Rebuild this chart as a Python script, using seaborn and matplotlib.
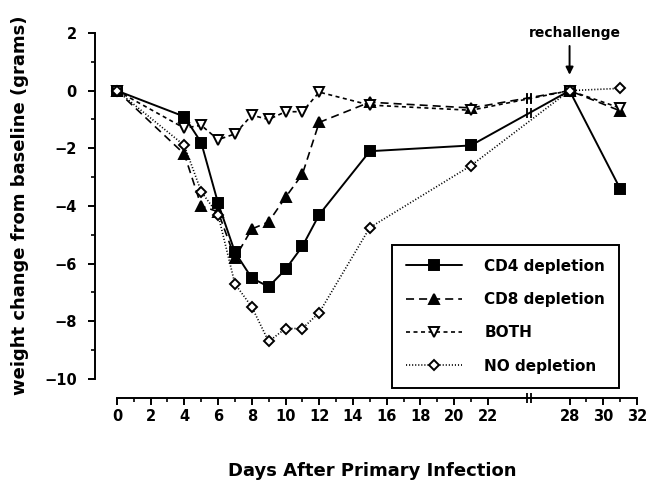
import numpy as np
import pandas as pd
import matplotlib
matplotlib.use("Agg")
import matplotlib.pyplot as plt
import matplotlib.transforms as mtransforms
from matplotlib.ticker import FixedLocator
import seaborn as sns

# days after primary infection and weight change (grams)
days = [0, 4, 5, 6, 7, 8, 9, 10, 11, 12, 15, 21, 28, 31]
cd4 = [0, -0.9, -1.8, -3.9, -5.6, -6.5, -6.8, -6.2, -5.4, -4.3, -2.1, -1.9, 0, -3.4]
cd8 = [0, -2.2, -4.0, -4.2, -5.8, -4.8, -4.55, -3.7, -2.9, -1.1, -0.4, -0.6, 0, -0.7]
both = [0, -1.3, -1.2, -1.7, -1.5, -0.85, -1.0, -0.73, -0.73, -0.05, -0.5, -0.68, 0, -0.6]
no_dep = [0, -1.9, -3.5, -4.3, -6.7, -7.5, -8.7, -8.25, -8.25, -7.7, -4.75, -2.6, 0, 0.08]

labels = ["CD4 depletion", "CD8 depletion", "BOTH", "NO depletion"]
x_major = [0, 2, 4, 6, 8, 10, 12, 14, 16, 18, 20, 22, 28, 30, 32]
x_minor = [1, 3, 5, 7, 9, 11, 13, 15, 17, 19, 21, 29, 31]
y_major = [-10, -8, -6, -4, -2, 0, 2]
y_minor = [-9, -7, -5, -3, -1, 1]
rechallenge_day = 28

# broken x axis: squeeze the empty stretch between day 24 and 27
LO, HI, SHIFT = 24.0, 27.0, 1.15
K = (HI - SHIFT - LO) / (HI - LO)


def forward(x):
    x = np.asarray(x, dtype=float)
    return np.where(x <= LO, x, np.where(x >= HI, x - SHIFT, LO + (x - LO) * K))


def inverse(x):
    x = np.asarray(x, dtype=float)
    return np.where(x <= LO, x, np.where(x >= HI - SHIFT, x + SHIFT, LO + (x - LO) / K))


sns.set_style("ticks")
plt.rcParams["font.family"] = ["DejaVu Sans"]
plt.rcParams["font.weight"] = "bold"
plt.rcParams["lines.scale_dashes"] = False
for key in ["text.color", "axes.labelcolor", "xtick.color", "ytick.color", "axes.edgecolor"]:
    plt.rcParams[key] = "black"

fig = plt.figure(figsize=(6.48, 4.82), dpi=100)
ax = fig.add_axes([95 / 648, 84 / 482, 542 / 648, 365 / 482])

df = pd.DataFrame({"day": days, labels[0]: cd4, labels[1]: cd8,
                   labels[2]: both, labels[3]: no_dep})

styles = {
    labels[0]: dict(linestyle="-", marker="s", markersize=6.5, markerfacecolor="black", linewidth=1.4),
    labels[1]: dict(linestyle=(0, (5.8, 3.6)), marker="^", markersize=6.5, markerfacecolor="black", linewidth=1.2),
    labels[2]: dict(linestyle=(0, (2.9, 2.5)), marker="v", markersize=6.5, markerfacecolor="white", linewidth=1.2),
    labels[3]: dict(linestyle=(0, (0.8, 1.4)), marker="D", markersize=4.8, markerfacecolor="white", linewidth=1.2),
}

handles = []
for name in labels:
    sns.lineplot(data=df, x="day", y=name, ax=ax, color="black",
                 markeredgecolor="black", markeredgewidth=1.4,
                 label=name, legend=False, **styles[name])
    handles.append(ax.lines[-1])

ax.set_xscale("function", functions=(forward, inverse))
ax.set_xlim(-1.3, 32)
ax.set_ylim(-10.66, 2)

for side in ["top", "right"]:
    ax.spines[side].set_visible(False)
ax.spines["left"].set_bounds(-10, 2)
ax.spines["bottom"].set_bounds(0, 32)
for sp in ["left", "bottom"]:
    ax.spines[sp].set_linewidth(1.4)

ax.xaxis.set_major_locator(FixedLocator(x_major))
ax.xaxis.set_minor_locator(FixedLocator(x_minor))
ax.yaxis.set_major_locator(FixedLocator(y_major))
ax.yaxis.set_minor_locator(FixedLocator(y_minor))
ax.set_xticklabels([str(v) for v in x_major])
ax.tick_params(which="major", length=5, width=1.4, labelsize=10.5, color="black")
ax.tick_params(which="minor", length=3, width=1.2, color="black")
ax.tick_params(axis="x", pad=3)
ax.tick_params(axis="y", pad=8)

# break marks on the axis and on the lines that cross it
break_day = float(inverse(24.45))
tx = forward(days)
ys = [ax.get_ylim()[0]] + [float(np.interp(forward(break_day), tx, s)) for s in (cd4, cd8, both)]
for dx in (-2.2, 2.2):
    off = mtransforms.ScaledTranslation(dx / 100, 0, fig.dpi_scale_trans)
    ax.plot([break_day] * len(ys), ys, linestyle="none", marker="|", markersize=7.5,
            markeredgewidth=1.3, color="black", transform=ax.transData + off, clip_on=False)

# rechallenge arrow
ax.annotate("", xy=(rechallenge_day, 0.55), xytext=(rechallenge_day, 1.55),
            arrowprops=dict(arrowstyle="-|>", color="black", lw=1.4,
                            mutation_scale=11, shrinkA=0, shrinkB=0),
            annotation_clip=False)
ax.text(rechallenge_day + 0.3, 2.0, "rechallenge", ha="center", va="center",
        fontsize=10, fontweight="bold", clip_on=False)

ax.set_xlabel("Days After Primary Infection", fontsize=13, fontweight="bold",
              va="center", ha="center")
ax.set_ylabel("weight change from baseline (grams)", fontsize=13, fontweight="bold",
              va="center", ha="center")
ax.xaxis.set_label_coords(0.511, -0.200)
ax.yaxis.set_label_coords(-0.138, 0.529)

leg = ax.legend(handles=handles, labels=labels, loc="upper left",
                bbox_to_anchor=(392 / 648, 1 - 245 / 482), bbox_transform=fig.transFigure,
                borderaxespad=0, fancybox=False, framealpha=1, edgecolor="black",
                fontsize=11, handlelength=3.65, handletextpad=1.5, labelspacing=1.2,
                borderpad=0.9, numpoints=1)
leg.get_frame().set_linewidth(1.4)
for t in leg.get_texts():
    t.set_fontweight("bold")

fig.savefig("out.png", dpi=100)
